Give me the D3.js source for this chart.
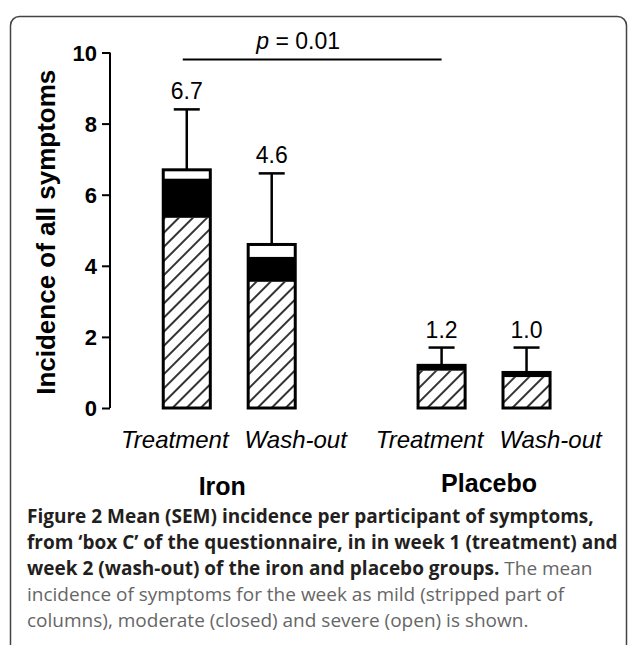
<!DOCTYPE html>
<html>
<head>
<meta charset="utf-8">
<script src="https://cdn.jsdelivr.net/npm/d3@7"></script>
<style>
  body { margin: 0; background: #fff; }
  svg { display: block; }
  .caption { font-family: "Open Sans", sans-serif; font-size: 19px; }
</style>
</head>
<body>
<svg id="chart" width="628" height="645"></svg>
<script>
"use strict";

var width = 628,
    height = 645;

// data
var groups = ["Iron", "Placebo"],
    weeks = ["Treatment", "Wash-out", "Treatment", "Wash-out"],
    barKeys = ["iron-t", "iron-w", "placebo-t", "placebo-w"],
    mild = [5.35, 3.55, 1.05, 0.87],
    moderate = [1.1, 0.7, 0.15, 0.13],
    severe = [0.25, 0.35, 0, 0],
    means = [6.7, 4.6, 1.2, 1.0],
    sem = [1.7, 2.0, 0.5, 0.7],
    yTicks = [0, 2, 4, 6, 8, 10],
    pLabel = "0.01";

var svg = d3.select("#chart");

// hatch for the mild part
svg.append("defs").append("pattern")
    .attr("id", "hatch")
    .attr("patternUnits", "userSpaceOnUse")
    .attr("width", 10)
    .attr("height", 10)
    .attr("patternTransform", "rotate(45)")
  .append("line")
    .attr("x1", 5).attr("y1", 0)
    .attr("x2", 5).attr("y2", 10)
    .attr("stroke", "#000")
    .attr("stroke-width", 1.6);

// frame of the figure
svg.append("rect")
    .attr("x", 10.5)
    .attr("y", 16.5)
    .attr("width", 616)
    .attr("height", 660)
    .attr("rx", 9)
    .attr("fill", "none")
    .attr("stroke", "#444")
    .attr("stroke-width", 1.5);

// slot in the middle left empty between the two groups
var x = d3.scaleBand()
    .domain(["iron-t", "iron-w", "gap", "placebo-t", "placebo-w"])
    .range([144.3, 569])
    .paddingInner(0.446)
    .paddingOuter(0.223);

var y = d3.scaleLinear()
    .domain([0, 10])
    .range([408, 52.5]);

var bw = x.bandwidth();

var yAxis = svg.append("g")
    .attr("transform", "translate(110,0)")
    .call(d3.axisLeft(y).tickValues(yTicks).tickSize(8).tickSizeOuter(0).tickPadding(5));
yAxis.select(".domain").attr("d", "M0," + y(10) + "V" + y(0)).attr("stroke-width", 2);
yAxis.selectAll(".tick line").attr("stroke-width", 2);
yAxis.selectAll(".tick text")
    .attr("dy", "0.36em")
    .style("font-family", "Liberation Sans, Arial, sans-serif")
    .style("font-weight", "bold")
    .style("font-size", "22px")
    .style("fill", "#000");

svg.append("text")
    .attr("transform", "translate(55," + ((y(0) + y(10)) / 2 + 2) + ") rotate(-90)")
    .attr("text-anchor", "middle")
    .style("font-family", "Liberation Sans, Arial, sans-serif")
    .style("font-weight", "bold")
    .style("font-size", "26px")
    .text("Incidence of all symptoms");

var bars = svg.selectAll(".bar")
    .data(barKeys.map(function (k, i) {
        return { key: k, mild: mild[i], moderate: moderate[i], severe: severe[i], mean: means[i], sem: sem[i] };
    }))
    .enter().append("g")
    .attr("class", "bar")
    .attr("transform", function (d) { return "translate(" + x(d.key) + ",0)"; });

// error bars first, bar outline is drawn over the foot
bars.append("line")
    .attr("x1", bw / 2).attr("x2", bw / 2)
    .attr("y1", function (d) { return y(d.mean); })
    .attr("y2", function (d) { return y(d.mean + d.sem); })
    .attr("stroke", "#000").attr("stroke-width", 2.5);
bars.append("line")
    .attr("x1", bw / 2 - 13).attr("x2", bw / 2 + 13)
    .attr("y1", function (d) { return y(d.mean + d.sem); })
    .attr("y2", function (d) { return y(d.mean + d.sem); })
    .attr("stroke", "#000").attr("stroke-width", 2.5);

bars.append("rect")
    .attr("width", bw)
    .attr("y", function (d) { return y(d.mean); })
    .attr("height", function (d) { return y(0) - y(d.mean); })
    .attr("fill", "#fff");
bars.append("rect")
    .attr("width", bw)
    .attr("y", function (d) { return y(d.mild); })
    .attr("height", function (d) { return y(0) - y(d.mild); })
    .attr("fill", "url(#hatch)");
bars.append("rect")
    .attr("width", bw)
    .attr("y", function (d) { return y(d.mild + d.moderate); })
    .attr("height", function (d) { return y(d.mild) - y(d.mild + d.moderate); })
    .attr("fill", "#000");
bars.append("rect")
    .attr("width", bw)
    .attr("y", function (d) { return y(d.mean); })
    .attr("height", function (d) { return y(0) - y(d.mean); })
    .attr("fill", "none")
    .attr("stroke", "#000")
    .attr("stroke-width", 3);

bars.append("text")
    .attr("x", bw / 2)
    .attr("y", function (d) { return y(d.mean + d.sem) - 10; })
    .attr("text-anchor", "middle")
    .style("font-family", "Liberation Sans, Arial, sans-serif")
    .style("font-size", "23px")
    .text(function (d) { return d.mean.toFixed(1); });

// week labels under the bars
svg.selectAll(".week")
    .data(weeks)
    .enter().append("text")
    .attr("class", "week")
    .attr("x", function (d, i) { return x(barKeys[i]) + bw / 2 + (d == "Treatment" ? -12 : 24); })
    .attr("y", 448)
    .attr("text-anchor", "middle")
    .style("font-family", "Liberation Sans, Arial, sans-serif")
    .style("font-style", "italic")
    .style("font-size", "24px")
    .text(function (d) { return d; });

svg.selectAll(".group")
    .data(groups)
    .enter().append("text")
    .attr("class", "group")
    .attr("x", function (d, i) {
        var a = x(barKeys[i * 2]), b = x(barKeys[i * 2 + 1]);
        return (a + b + bw) / 2 + (i == 0 ? -7 : 5);
    })
    .attr("y", function (d, i) { return i == 0 ? 495 : 492; })
    .attr("text-anchor", "middle")
    .style("font-family", "Liberation Sans, Arial, sans-serif")
    .style("font-weight", "bold")
    .style("font-size", "25px")
    .text(function (d) { return d; });

// significance line between iron and placebo treatment
var pY = y(9.8);
var pX1 = x("iron-t") + bw / 2 - 4,
    pX2 = x("placebo-t") + bw / 2;
svg.append("line")
    .attr("x1", pX1).attr("x2", pX2)
    .attr("y1", pY).attr("y2", pY)
    .attr("stroke", "#000").attr("stroke-width", 2);
var pText = svg.append("text")
    .attr("x", (pX1 + pX2) / 2 - 14)
    .attr("y", pY - 11)
    .attr("text-anchor", "middle")
    .style("font-family", "Liberation Sans, Arial, sans-serif")
    .style("font-size", "23px");
pText.append("tspan").style("font-style", "italic").text("p");
pText.append("tspan").text(" = " + pLabel);

// caption
var caption = [
    [["b", "Figure 2 Mean (SEM) incidence per participant of symptoms,"]],
    [["b", "from \u2018box C\u2019 of the questionnaire, in in week 1 (treatment) and"]],
    [["b", "week 2 (wash-out) of the iron and placebo groups."], ["r", " The mean"]],
    [["r", "incidence of symptoms for the week as mild (stripped part of"]],
    [["r", "columns), moderate (closed) and severe (open) is shown."]]
];

caption.forEach(function (line, i) {
    var t = svg.append("text")
        .attr("class", "caption")
        .attr("x", 27)
        .attr("y", 523 + i * 26);
    line.forEach(function (part) {
        t.append("tspan")
            .style("font-weight", part[0] == "b" ? "bold" : "normal")
            .style("fill", part[0] == "b" ? "#231f20" : "#666")
            .text(part[1]);
    });
});
</script>
</body>
</html>
